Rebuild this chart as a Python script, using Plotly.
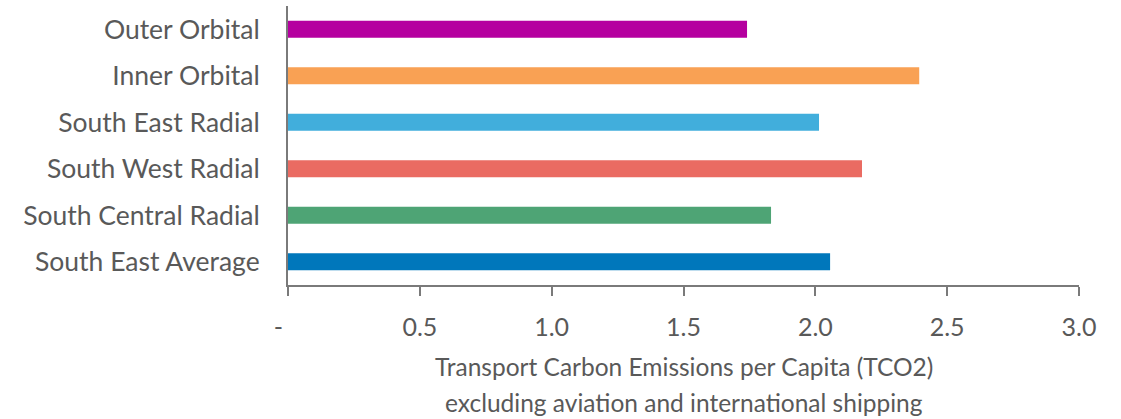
import plotly.graph_objects as go

categories = ["South East Average", "South Central Radial", "South West Radial",
              "South East Radial", "Inner Orbital", "Outer Orbital"]
values = [2.056, 1.832, 2.177, 2.014, 2.394, 1.741]
colors = ["#0077BB", "#4EA475", "#EA6B62", "#41AEDC", "#F9A154", "#B5009F"]
tick_vals = [0, 0.5, 1.0, 1.5, 2.0, 2.5, 3.0]
tick_text = ["-\u00a0\u00a0\u00a0", "0.5", "1.0", "1.5", "2.0", "2.5", "3.0"]
title_lines = ["Transport Carbon Emissions per Capita (TCO2)",
               "excluding aviation and international shipping"]

FONT = "Lato"
GREY = "#595959"
H, T, B = 419, 6, 134
plot_h = H - T - B


def paper_y(px):
    return (H - B - px) / plot_h


fig = go.Figure(go.Bar(
    x=values, y=categories, orientation="h",
    marker=dict(color=colors, line=dict(width=0)),
    width=0.365,
))

annotations = []
for line, ypx in zip(title_lines, [366, 402]):
    annotations.append(dict(
        text=line, xref="paper", yref="paper",
        x=0.5, y=paper_y(ypx), xanchor="center", yanchor="middle",
        showarrow=False, font=dict(family=FONT, size=24.5, color=GREY),
    ))

fig.update_layout(
    width=1121, height=H,
    margin=dict(l=288, r=42, t=T, b=B),
    paper_bgcolor="white", plot_bgcolor="white",
    showlegend=False,
    font=dict(family=FONT, size=21, color=GREY),
    xaxis=dict(
        range=[0, 3.0], tickvals=tick_vals, ticktext=tick_text,
        showgrid=False, zeroline=False,
        showline=True, linecolor="#7a7a7a", linewidth=2,
        ticks="outside", ticklen=9, tickcolor="#7a7a7a", tickwidth=2,
        ticklabelstandoff=10,
        tickfont=dict(family=FONT, size=25, color=GREY),
    ),
    yaxis=dict(
        showgrid=False, zeroline=False,
        showline=True, linecolor="#7a7a7a", linewidth=2,
        ticks="", ticklabelstandoff=21,
        tickfont=dict(family=FONT, size=26.5, color=GREY),
        categoryorder="array", categoryarray=categories,
    ),
    annotations=annotations,
)

fig.write_html("out.html")
